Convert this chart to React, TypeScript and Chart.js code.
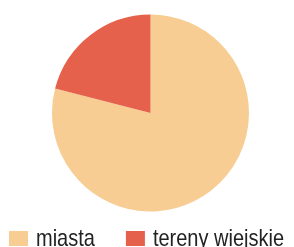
import React, { useEffect, useRef } from "react";
import { Chart, registerables } from "chart.js";

Chart.register(...registerables);

const categories = ["miasta", "tereny wiejskie"];
const shares = [79, 21];
const sliceColors = ["#F7CD93", "#E5614B"];

const legendFont = '20px "Liberation Sans", Arial, sans-serif';

const bottomLegend = {
  id: "bottomLegend",
  afterDraw(chart: any) {
    const ctx = chart.ctx as CanvasRenderingContext2D;
    const labels = chart.data.labels as string[];
    const colors = chart.data.datasets[0].backgroundColor as string[];
    ctx.save();
    ctx.font = legendFont;
    ctx.textBaseline = "alphabetic";
    ctx.textAlign = "left";
    let x = 9;
    const boxW = 19;
    const boxH = 15;
    const boxTop = 231;
    const baseline = 246;
    labels.forEach((label, i) => {
      ctx.fillStyle = colors[i];
      ctx.fillRect(x, boxTop, boxW, boxH);
      const tx = x + boxW + 8;
      ctx.save();
      ctx.translate(tx, baseline);
      ctx.scale(1, 1.2);
      ctx.fillStyle = "#222222";
      ctx.fillText(label, 0, 0);
      ctx.restore();
      x = tx + ctx.measureText(label).width + 31;
    });
    ctx.restore();
  },
};

export default function App() {
  const ref = useRef<HTMLCanvasElement | null>(null);
  useEffect(() => {
    if (!ref.current) return;
    const chart = new Chart(ref.current, {
      type: "pie",
      data: {
        labels: categories,
        datasets: [
          {
            data: shares,
            backgroundColor: sliceColors,
            borderWidth: 0,
          },
        ],
      },
      options: {
        responsive: false,
        animation: false,
        layout: { padding: { top: 14, bottom: 35, left: 52, right: 45 } },
        plugins: {
          legend: { display: false },
          tooltip: { enabled: false },
        },
      },
      plugins: [bottomLegend],
    });
    return () => chart.destroy();
  }, []);
  return (
    <div style={{ position: "fixed", left: 0, top: 0, width: 294, height: 247, overflow: "hidden", background: "#ffffff" }}>
      <canvas ref={ref} width={294} height={247} style={{ display: "block" }} />
    </div>
  );
}
